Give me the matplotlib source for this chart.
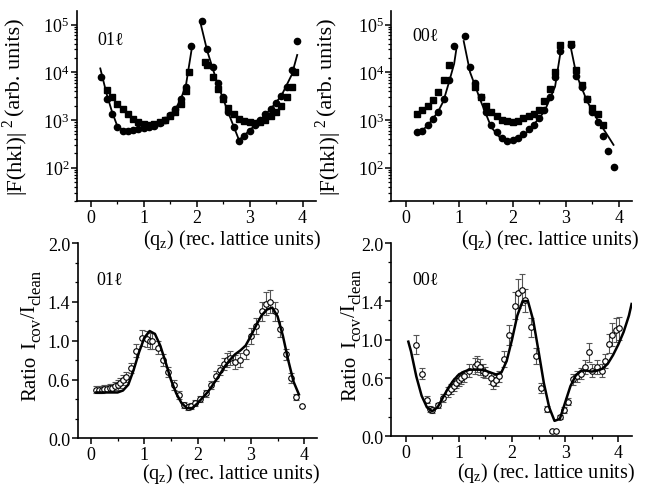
import numpy as np
import matplotlib.pyplot as plt
from matplotlib import transforms
from matplotlib.ticker import MultipleLocator, FixedLocator, LogLocator, NullFormatter

plt.rcParams['font.family'] = ['Liberation Serif', 'DejaVu Serif']
plt.rcParams['mathtext.fontset'] = 'custom'
plt.rcParams['mathtext.rm'] = 'Liberation Serif'
plt.rcParams['mathtext.it'] = 'Liberation Serif:italic'

# ---- top left: 01l structure factors ----
x01_c = [0.2, 0.3, 0.4, 0.5, 0.6, 0.7, 0.8, 0.9, 1.0, 1.1, 1.2, 1.3, 1.4, 1.5, 1.6, 1.7, 1.8, 1.9,
         2.1, 2.2, 2.3, 2.4, 2.5, 2.6, 2.7, 2.8, 2.9, 3.0, 3.1, 3.2, 3.3, 3.4, 3.5, 3.6, 3.7, 3.8, 3.9]
y01_c = [8000, 2800, 1300, 700, 600, 600, 620, 650, 680, 700, 750, 850, 1000, 1250, 1700, 2700, 5000, 36000,
         120000, 30000, 13000, 6000, 3000, 1500, 700, 370, 450, 600, 800, 1000, 1300, 1700, 2300, 3200, 5000, 11000, 45000]
x01_s = [0.3, 0.4, 0.5, 0.6, 0.7, 0.8, 0.9, 1.0, 1.1, 1.2, 1.3, 1.4, 1.5, 1.6, 1.7, 1.8, 1.85,
         2.15, 2.2, 2.3, 2.4, 2.5, 2.6, 2.7, 2.8, 2.9, 3.0, 3.1, 3.2, 3.3, 3.4, 3.5, 3.6, 3.7, 3.8, 3.85]
y01_s = [4200, 3000, 2200, 1700, 1300, 1050, 900, 820, 800, 820, 900, 1000, 1200, 1500, 2200, 4000, 10000,
         16000, 14000, 8000, 4500, 2800, 1800, 1300, 1050, 950, 900, 880, 920, 1000, 1200, 1500, 2000, 3000, 5000, 10000]
fit01_x1 = [0.18, 0.3, 0.4, 0.5, 0.6, 0.8, 1.0, 1.2, 1.4, 1.6, 1.7, 1.8, 1.92]
fit01_y1 = [12000, 3500, 1500, 750, 620, 640, 700, 780, 1000, 1700, 2700, 5500, 38000]
fit01_x2 = [2.08, 2.2, 2.4, 2.6, 2.8, 3.0, 3.2, 3.4, 3.6, 3.8, 3.9]
fit01_y2 = [100000, 28000, 5500, 1400, 380, 600, 1000, 1700, 3200, 9000, 23000]

# ---- top right: 00l structure factors ----
x00_c = [0.2, 0.3, 0.4, 0.5, 0.6, 0.7, 0.8, 0.9, 1.1, 1.2, 1.3, 1.4, 1.5, 1.6, 1.7, 1.8, 1.9, 2.0,
         2.1, 2.2, 2.3, 2.4, 2.5, 2.6, 2.7, 2.8, 2.9, 3.1, 3.2, 3.3, 3.4, 3.5, 3.6, 3.7, 3.8, 3.9]
y00_c = [550, 600, 800, 1050, 1500, 2800, 7000, 35000, 57000, 13000, 6000, 3000, 1500, 800, 550, 420, 360, 380,
         420, 500, 650, 800, 1100, 1600, 3000, 8000, 28000, 38000, 8500, 5000, 2800, 1500, 900, 450, 220, 105]
x00_s = [0.2, 0.3, 0.4, 0.5, 0.6, 0.7, 0.8, 1.3, 1.4, 1.5, 1.6, 1.7, 1.8, 1.9, 2.0, 2.1, 2.2, 2.3, 2.4,
         2.5, 2.6, 2.7, 2.8, 2.9, 3.1, 3.2, 3.3, 3.4, 3.5, 3.6, 3.7]
y00_s = [1300, 1600, 2000, 2600, 3800, 7000, 14000, 5000, 3000, 2000, 1500, 1200, 1000, 950, 900, 950, 1100, 1200, 1300,
         1600, 2500, 4500, 10000, 37000, 40000, 11000, 5500, 2800, 1800, 1300, 800]
fit00_x1 = [0.2, 0.4, 0.6, 0.7, 0.8, 0.9, 0.95]
fit00_y1 = [500, 750, 1500, 2500, 6000, 15000, 35000]
fit00_x2 = [1.08, 1.2, 1.4, 1.6, 1.8, 2.0, 2.2, 2.4, 2.6, 2.8, 2.92]
fit00_y2 = [45000, 10000, 2500, 700, 380, 340, 450, 800, 1500, 5000, 35000]
fit00_x3 = [3.08, 3.2, 3.4, 3.6, 3.8, 3.9]
fit00_y3 = [40000, 9000, 2500, 1000, 450, 300]

# ---- bottom left: ratio 01l ----
r01_x = [0.10, 0.15, 0.20, 0.25, 0.30, 0.35, 0.40, 0.45, 0.50, 0.55, 0.60, 0.65, 0.75, 0.85, 0.95, 1.05, 1.10,
         1.15, 1.25, 1.35, 1.45, 1.55, 1.65, 1.75, 1.82, 1.88, 1.95, 2.05, 2.15, 2.25, 2.35, 2.42, 2.50, 2.55,
         2.60, 2.70, 2.80, 2.90, 3.00, 3.10, 3.20, 3.28, 3.35, 3.45, 3.55, 3.65, 3.75, 3.85, 3.95]
r01_y = [0.50, 0.50, 0.50, 0.51, 0.51, 0.52, 0.52, 0.54, 0.55, 0.57, 0.60, 0.63, 0.72, 0.90, 1.03, 1.02, 1.00,
         1.00, 0.93, 0.80, 0.68, 0.55, 0.44, 0.34, 0.32, 0.33, 0.36, 0.40, 0.46, 0.55, 0.64, 0.70, 0.76, 0.80,
         0.82, 0.78, 0.80, 0.88, 1.05, 1.15, 1.30, 1.38, 1.40, 1.30, 1.12, 0.86, 0.62, 0.42, 0.33]
r01_e = [0.04, 0.04, 0.04, 0.04, 0.04, 0.04, 0.04, 0.04, 0.05, 0.05, 0.05, 0.05, 0.05, 0.07, 0.08, 0.08, 0.08,
         0.08, 0.07, 0.06, 0.05, 0.05, 0.04, 0.03, 0.03, 0.03, 0.03, 0.03, 0.04, 0.04, 0.05, 0.05, 0.06, 0.07,
         0.07, 0.07, 0.07, 0.07, 0.08, 0.08, 0.10, 0.12, 0.12, 0.10, 0.08, 0.06, 0.05, 0.03, 0.0]
r01_fx = [0.1, 0.2, 0.3, 0.4, 0.5, 0.6, 0.7, 0.8, 0.9, 1.0, 1.1, 1.2, 1.3, 1.4, 1.5, 1.6, 1.7, 1.8, 1.9, 2.0,
          2.1, 2.2, 2.3, 2.4, 2.5, 2.6, 2.7, 2.8, 2.9, 3.0, 3.1, 3.2, 3.3, 3.4, 3.5, 3.6, 3.7, 3.8, 3.9]
r01_fy = [0.47, 0.47, 0.47, 0.47, 0.47, 0.49, 0.55, 0.70, 0.88, 1.03, 1.10, 1.07, 0.95, 0.78, 0.60, 0.46, 0.36,
          0.31, 0.31, 0.36, 0.42, 0.48, 0.56, 0.64, 0.73, 0.80, 0.86, 0.90, 0.95, 1.05, 1.16, 1.26, 1.32, 1.34,
          1.25, 1.05, 0.80, 0.58, 0.45]

# ---- bottom right: ratio 00l ----
r00_x = [0.2, 0.3, 0.4, 0.45, 0.5, 0.6, 0.7, 0.8, 0.85, 0.9, 0.95, 1.0, 1.05, 1.1, 1.2, 1.3, 1.35, 1.4, 1.45,
         1.5, 1.6, 1.65, 1.7, 1.75, 1.85, 1.95, 2.05, 2.12, 2.18, 2.25, 2.35, 2.45, 2.55, 2.65, 2.76, 2.82,
         2.9, 2.97, 3.05, 3.15, 3.22, 3.3, 3.38, 3.45, 3.5, 3.6, 3.7, 3.75, 3.82, 3.88, 3.95, 4.02]
r00_y = [0.95, 0.65, 0.38, 0.28, 0.27, 0.32, 0.40, 0.46, 0.49, 0.52, 0.55, 0.58, 0.60, 0.62, 0.68, 0.73, 0.75,
         0.72, 0.68, 0.66, 0.60, 0.55, 0.58, 0.62, 0.80, 1.05, 1.35, 1.48, 1.52, 1.41, 1.13, 0.83, 0.50, 0.28,
         0.05, 0.05, 0.20, 0.27, 0.36, 0.59, 0.62, 0.65, 0.72, 0.87, 0.68, 0.72, 0.68, 0.78, 0.96, 1.05, 1.10, 1.12]
r00_e = [0.10, 0.06, 0.04, 0.03, 0.03, 0.03, 0.04, 0.05, 0.05, 0.05, 0.05, 0.06, 0.06, 0.06, 0.07, 0.08, 0.08,
         0.08, 0.07, 0.06, 0.06, 0.06, 0.06, 0.06, 0.08, 0.10, 0.14, 0.15, 0.16, 0.12, 0.10, 0.08, 0.05, 0.03,
         0.0, 0.0, 0.02, 0.03, 0.04, 0.06, 0.06, 0.06, 0.07, 0.10, 0.07, 0.07, 0.07, 0.07, 0.10, 0.12, 0.12, 0.12]
r00_fx = [0.05, 0.1, 0.2, 0.3, 0.4, 0.5, 0.6, 0.7, 0.8, 0.9, 1.0, 1.1, 1.2, 1.3, 1.4, 1.5, 1.6, 1.7, 1.8, 1.9,
          2.0, 2.1, 2.2, 2.3, 2.4, 2.5, 2.6, 2.7, 2.8, 2.9, 3.0, 3.1, 3.2, 3.3, 3.4, 3.5, 3.6, 3.7, 3.8, 3.9,
          4.0, 4.1, 4.2, 4.25]
r00_fy = [0.98, 0.88, 0.62, 0.42, 0.30, 0.26, 0.30, 0.40, 0.50, 0.58, 0.64, 0.67, 0.69, 0.69, 0.69, 0.68, 0.66,
          0.64, 0.66, 0.78, 1.00, 1.25, 1.40, 1.40, 1.20, 0.88, 0.55, 0.30, 0.16, 0.18, 0.35, 0.52, 0.63, 0.68,
          0.68, 0.67, 0.68, 0.70, 0.75, 0.84, 0.95, 1.08, 1.25, 1.37]

fig = plt.figure(figsize=(6.47, 4.89), dpi=100)
ax1 = fig.add_axes([0.119, 0.587, 0.369, 0.388])
ax2 = fig.add_axes([0.605, 0.587, 0.372, 0.388])
ax3 = fig.add_axes([0.120, 0.1016, 0.370, 0.399])
ax4 = fig.add_axes([0.604, 0.1057, 0.373, 0.395])
renderer = fig.canvas.get_renderer()

fs = 13


def vlabel(ax, xb, yc, pieces, size):
    # rotated label built from pieces: (text, scale, baseline shift px, gap px after)
    made = []
    total = 0
    for s, sc, sh, gap in pieces:
        t = ax.text(0, 0, s, rotation=90, rotation_mode='anchor', ha='left', va='baseline',
                    fontsize=size * sc, transform=ax.transAxes)
        w = t.get_window_extent(renderer).height
        made.append((t, w, sh, gap))
        total += w + gap
    bb = ax.get_window_extent(renderer)
    y = bb.y0 + yc * bb.height - total / 2
    x = bb.x0 + xb * bb.width
    for t, w, sh, gap in made:
        t.set_transform(transforms.IdentityTransform())
        t.set_position((x + sh, y))
        y += w + gap


for ax in (ax1, ax2, ax3, ax4):
    ax.patch.set_visible(False)
    ax.spines['top'].set_visible(False)
    ax.spines['right'].set_visible(False)
    ax.spines['left'].set_linewidth(1.2)
    ax.spines['bottom'].set_linewidth(1.2)
    ax.xaxis.set_major_locator(FixedLocator([0, 1, 2, 3, 4]))
    ax.xaxis.set_minor_locator(MultipleLocator(0.5))
    ax.tick_params(which='major', direction='out', length=4, width=1.1, labelsize=fs, pad=1.5)
    ax.tick_params(which='minor', direction='out', length=2.5, width=0.9)
    ax.set_xlabel(r"(q$_{\rm z}$) (rec. lattice units)", fontsize=14.5)

# top panels
ax1.plot(x01_s, y01_s, 's', color='k', ms=4.2, zorder=2)
ax1.plot(x01_c, y01_c, 'o', color='k', ms=4.5, zorder=2)
ax1.plot(fit01_x1, fit01_y1, '-', color='k', lw=1.3, zorder=3)
ax1.plot(fit01_x2, fit01_y2, '-', color='k', lw=1.3, zorder=3)

ax2.plot(x00_s, y00_s, 's', color='k', ms=4.2, zorder=2)
ax2.plot(x00_c, y00_c, 'o', color='k', ms=4.5, zorder=2)
ax2.plot(fit00_x1, fit00_y1, '-', color='k', lw=1.3, zorder=3)
ax2.plot(fit00_x2, fit00_y2, '-', color='k', lw=1.3, zorder=3)
ax2.plot(fit00_x3, fit00_y3, '-', color='k', lw=1.3, zorder=3)

for ax, xl in ((ax1, (-0.26, 4.25)), (ax2, (-0.28, 4.25))):
    ax.set_yscale('log')
    ax.set_ylim(20, 1.9e5)
    ax.set_xlim(*xl)
    ax.yaxis.set_major_locator(LogLocator(base=10, numticks=10))
    ax.yaxis.set_minor_locator(LogLocator(base=10, subs=np.arange(2, 10), numticks=10))
    ax.yaxis.set_minor_formatter(NullFormatter())

ax1.xaxis.set_label_coords(0.65, -0.135)
ax2.xaxis.set_label_coords(0.66, -0.135)

# bottom panels
ax3.errorbar(r01_x, r01_y, yerr=r01_e, fmt='o', ms=4, mfc='white', mec='k', mew=0.8,
             ecolor='#555555', elinewidth=0.8, capsize=2, capthick=0.8, zorder=2)
ax3.plot(r01_fx, r01_fy, '-', color='k', lw=1.8, zorder=3)
ax4.errorbar(r00_x, r00_y, yerr=r00_e, fmt='o', ms=4, mfc='white', mec='k', mew=0.8,
             ecolor='#555555', elinewidth=0.8, capsize=2, capthick=0.8, zorder=2)
ax4.plot(r00_fx, r00_fy, '-', color='k', lw=1.8, zorder=3)

for ax, xl in ((ax3, (-0.25, 4.24)), (ax4, (-0.28, 4.26))):
    ax.set_xlim(*xl)
    ax.set_ylim(0, 2.0)
    ax.yaxis.set_major_locator(FixedLocator([0.0, 0.6, 1.0, 1.4, 2.0]))
    ax.yaxis.set_minor_locator(MultipleLocator(0.2))
    ax.yaxis.set_major_formatter(plt.FuncFormatter(lambda v, p: f"{v:.1f}"))

ax3.xaxis.set_label_coords(0.64, -0.118)
ax4.xaxis.set_label_coords(0.644, -0.122)

# y labels
f_pieces = [("|F(hkl)|", 1.0, 0, 3), ("2", 0.7, -8, 3), ("(arb. units)", 1.0, 0, 0)]
r_pieces = [("Ratio", 1.0, 0, 7), ("I", 1.0, 0, 0), ("cov", 0.8, 5, 0), ("/I", 1.0, 0, 0), ("clean", 0.8, 5, 0)]
vlabel(ax1, -0.238, 0.505, f_pieces, 16)
vlabel(ax2, -0.243, 0.505, f_pieces, 16)
vlabel(ax3, -0.178, 0.53, r_pieces, 15)
vlabel(ax4, -0.148, 0.53, r_pieces, 15)

# panel tags
ax1.text(0.084, 0.85, "01\u2113", transform=ax1.transAxes, fontsize=fs, va='center')
ax2.text(0.088, 0.87, "00\u2113", transform=ax2.transAxes, fontsize=fs, va='center')
ax3.text(0.08, 0.815, "01\u2113", transform=ax3.transAxes, fontsize=fs, va='center')
ax4.text(0.091, 0.81, "00\u2113", transform=ax4.transAxes, fontsize=fs, va='center')

fig.savefig("out.png", dpi=100)
